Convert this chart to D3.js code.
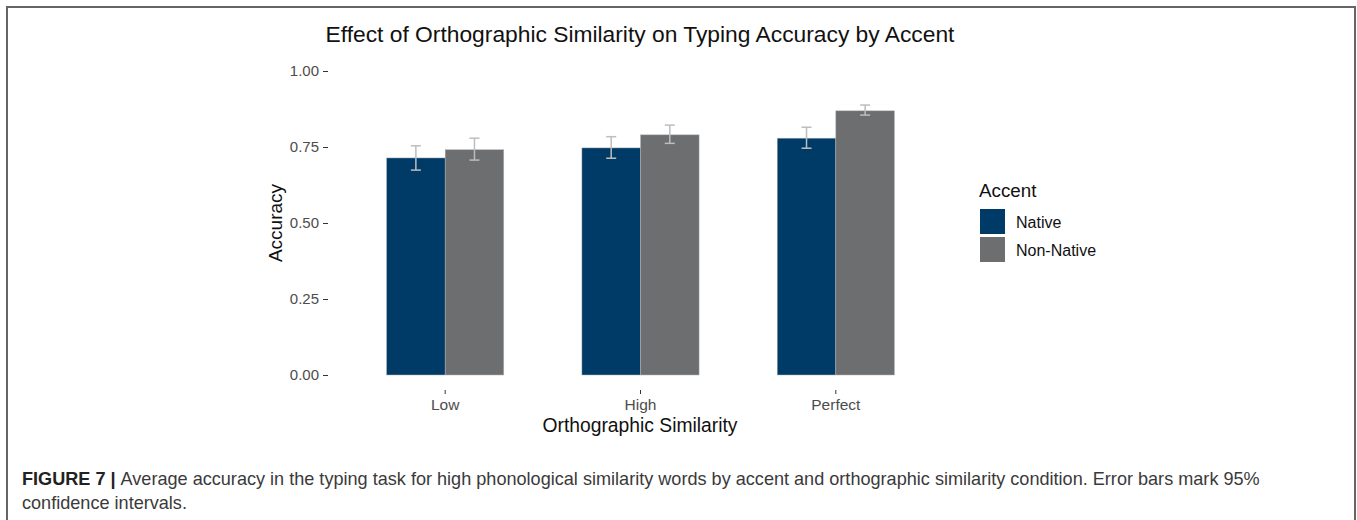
<!DOCTYPE html>
<html>
<head>
<meta charset="utf-8">
<script src="https://cdn.jsdelivr.net/npm/d3@7"></script>
<style>
  body { margin: 0; background: #fff; }
  svg text { font-family: "Liberation Sans", Arial, sans-serif; }
</style>
</head>
<body>
<svg id="chart" width="1357" height="520"></svg>
<script>
// data
const categories = ["Low", "High", "Perfect"];
const accents = ["Native", "Non-Native"];
const accuracyNative = [0.714, 0.747, 0.779];
const accuracyNonNative = [0.741, 0.790, 0.869];
const lowerNative = [0.674, 0.713, 0.746];
const upperNative = [0.754, 0.784, 0.815];
const lowerNonNative = [0.707, 0.762, 0.855];
const upperNonNative = [0.779, 0.822, 0.888];
const yTicks = [0, 0.25, 0.5, 0.75, 1];

const colors = {"Native": "#003a66", "Non-Native": "#6d6e70"};

const rows = [];
categories.forEach(function (c, i) {
    rows.push({cat: c, accent: "Native", v: accuracyNative[i], lo: lowerNative[i], hi: upperNative[i]});
    rows.push({cat: c, accent: "Non-Native", v: accuracyNonNative[i], lo: lowerNonNative[i], hi: upperNonNative[i]});
});

const svg = d3.select("#chart");

// figure frame
svg.append("path")
    .attr("d", "M7,520 V7 H1355 V520")
    .attr("fill", "none")
    .attr("stroke", "#666")
    .attr("stroke-width", 2);

const panel = {left: 328, right: 953, top: 56, bottom: 390};

const x = d3.scaleBand().domain(categories)
    .range([panel.left - 0.1 * 195.5, panel.right + 0.1 * 195.5])
    .paddingInner(0.4).paddingOuter(0.4);
const xSub = d3.scaleBand().domain(accents).range([0, x.bandwidth()]);

const y = d3.scaleLinear().domain([0, 1]).range([375, 71]);

// bars
svg.append("g").selectAll("rect")
    .data(rows)
    .enter()
    .append("rect")
    .attr("x", d => x(d.cat) + xSub(d.accent))
    .attr("y", d => y(d.v))
    .attr("width", xSub.bandwidth())
    .attr("height", d => y(0) - y(d.v))
    .attr("fill", d => colors[d.accent])
    .attr("stroke", "#b0b4b8")
    .attr("stroke-width", 0.5);

// error bars
const eb = svg.append("g").attr("stroke", "#bdbdbd").attr("stroke-width", 1.5).attr("fill", "none");
rows.forEach(function (d) {
    const cx = x(d.cat) + xSub(d.accent) + xSub.bandwidth() / 2;
    eb.append("line").attr("x1", cx).attr("x2", cx).attr("y1", y(d.lo)).attr("y2", y(d.hi));
    eb.append("line").attr("x1", cx - 5).attr("x2", cx + 5).attr("y1", y(d.lo)).attr("y2", y(d.lo));
    eb.append("line").attr("x1", cx - 5).attr("x2", cx + 5).attr("y1", y(d.hi)).attr("y2", y(d.hi));
});

// y axis
const yAxis = svg.append("g")
    .attr("transform", "translate(" + panel.left + ",0)")
    .call(d3.axisLeft(y).tickValues(yTicks).tickFormat(d3.format(".2f")).tickSize(5).tickPadding(4));
yAxis.select(".domain").remove();
yAxis.selectAll(".tick line").attr("stroke", "#333").attr("stroke-width", 1);
yAxis.selectAll(".tick text").attr("fill", "#4d4d4d").style("font-size", "15px");

// x axis
const xAxis = svg.append("g")
    .attr("transform", "translate(0," + panel.bottom + ")")
    .call(d3.axisBottom(x).tickSize(4).tickPadding(5));
xAxis.select(".domain").remove();
xAxis.selectAll(".tick line").attr("stroke", "#333").attr("stroke-width", 1);
xAxis.selectAll(".tick text").attr("fill", "#4d4d4d").style("font-size", "15.5px");

// titles
svg.append("text")
    .attr("x", 640).attr("y", 42)
    .attr("text-anchor", "middle")
    .style("font-size", "22.8px")
    .attr("fill", "#111")
    .text("Effect of Orthographic Similarity on Typing Accuracy by Accent");

svg.append("text")
    .attr("x", 640).attr("y", 432)
    .attr("text-anchor", "middle")
    .style("font-size", "19.3px")
    .attr("fill", "#111")
    .text("Orthographic Similarity");

svg.append("text")
    .attr("transform", "translate(282,223) rotate(-90)")
    .attr("text-anchor", "middle")
    .style("font-size", "19px")
    .attr("fill", "#111")
    .text("Accuracy");

// legend
const legend = svg.append("g");
legend.append("text")
    .attr("x", 979).attr("y", 197)
    .style("font-size", "18.8px")
    .attr("fill", "#111")
    .text("Accent");
accents.forEach(function (a, i) {
    legend.append("rect")
        .attr("x", 980).attr("y", 209 + i * 28)
        .attr("width", 25).attr("height", 25)
        .attr("fill", colors[a]);
    legend.append("text")
        .attr("x", 1016).attr("y", 228 + i * 28)
        .style("font-size", "16px")
        .attr("fill", "#111")
        .text(a);
});

// caption
const cap = svg.append("text")
    .attr("x", 22).attr("y", 485)
    .style("font-size", "18.1px")
    .attr("fill", "#3a3a3a");
cap.append("tspan").style("font-weight", "bold").attr("fill", "#222").text("FIGURE 7 | ");
cap.append("tspan").text("Average accuracy in the typing task for high phonological similarity words by accent and orthographic similarity condition. Error bars mark 95%");
svg.append("text")
    .attr("x", 22).attr("y", 509)
    .style("font-size", "18.1px")
    .attr("fill", "#3a3a3a")
    .text("confidence intervals.");
</script>
</body>
</html>
